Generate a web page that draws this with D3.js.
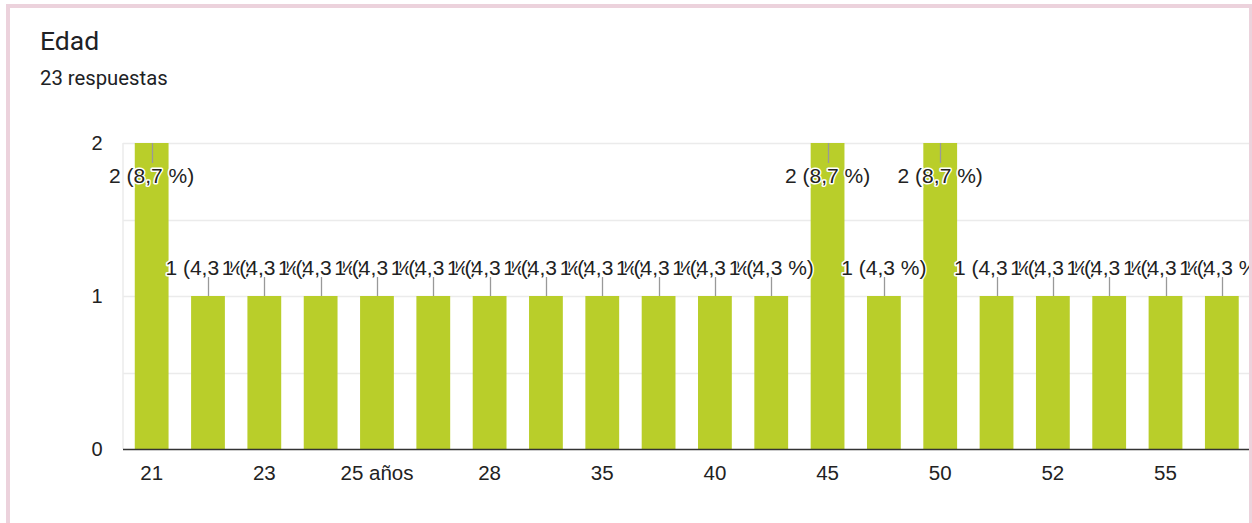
<!DOCTYPE html>
<html>
<head>
<meta charset="utf-8">
<script src="https://cdn.jsdelivr.net/npm/d3@7"></script>
<style>
  html, body { margin: 0; padding: 0; background: #fff; }
  svg { display: block; }
</style>
</head>
<body>
<div id="chart"></div>
<script>
// Age answers ("Edad") — count of responses per age option
const categories = ["21", "22", "23", "24", "25 años", "27", "28", "30", "35", "38",
                    "40", "42", "45", "48", "50", "51", "52", "54", "55", "58"];
const counts = [2, 1, 1, 1, 1, 1, 1, 1, 1, 1, 1, 1, 2, 1, 2, 1, 1, 1, 1, 1];
const yTicks = [0, 1, 2];
const gridValues = [0.5, 1, 1.5, 2];
const title = "Edad";
const total = d3.sum(counts);
const subtitle = `${total} respuestas`;

const W = 1252, H = 523;
const plot = { left: 123.5, right: 1250, top: 143, bottom: 449 };
const labelFont = "'Liberation Sans', Arial, sans-serif";

const svg = d3.select("#chart").append("svg")
  .attr("width", W).attr("height", H);

// Header
svg.append("text")
  .attr("x", 40).attr("y", 50)
  .attr("font-family", "Roboto, 'Noto Sans', sans-serif")
  .attr("font-size", 26.5)
  .attr("fill", "#202124")
  .text(title);
svg.append("text")
  .attr("x", 40).attr("y", 85)
  .attr("font-family", "Roboto, 'Noto Sans', sans-serif")
  .attr("font-size", 20.3)
  .attr("fill", "#202124")
  .text(subtitle);

const x = d3.scaleBand()
  .domain(categories)
  .range([plot.left, plot.right])
  .paddingInner(0.4)
  .paddingOuter(0.2);

const y = d3.scaleLinear()
  .domain([0, 2])
  .range([plot.bottom, plot.top]);

svg.append("defs").append("clipPath").attr("id", "plotClip")
  .append("rect").attr("x", 0).attr("y", 0).attr("width", 1250).attr("height", H);

const g = svg.append("g").attr("clip-path", "url(#plotClip)");

// Gridlines
g.append("g").selectAll("line").data(gridValues).join("line")
  .attr("x1", plot.left - 0.5).attr("x2", plot.right)
  .attr("y1", d => Math.round(y(d)) + 0.5).attr("y2", d => Math.round(y(d)) + 0.5)
  .attr("stroke", "#ebebeb").attr("stroke-width", 1.5);
g.append("line")
  .attr("x1", plot.left - 0.5).attr("x2", plot.left - 0.5)
  .attr("y1", plot.top).attr("y2", plot.bottom)
  .attr("stroke", "#ebebeb").attr("stroke-width", 1.5);

// Bars
g.append("g").selectAll("rect").data(counts).join("rect")
  .attr("x", (d, i) => x(categories[i]))
  .attr("width", x.bandwidth())
  .attr("y", d => y(d))
  .attr("height", d => y(0) - y(d))
  .attr("fill", "#b9ce2a");

// Baseline
g.append("line")
  .attr("x1", plot.left - 0.5).attr("x2", plot.right)
  .attr("y1", plot.bottom + 0.5).attr("y2", plot.bottom + 0.5)
  .attr("stroke", "#333").attr("stroke-width", 1.5);

// Y axis labels
const yAxis = d3.axisLeft(y).tickValues(yTicks).tickSize(0).tickPadding(0).tickFormat(d3.format("d"));
svg.append("g")
  .attr("transform", `translate(${plot.left - 21},0)`)
  .call(yAxis)
  .call(s => s.select(".domain").remove())
  .call(s => s.selectAll("text")
    .attr("font-family", labelFont)
    .attr("font-size", 20)
    .attr("fill", "#222"));

// X axis labels (every other category)
const xAxis = d3.axisBottom(x)
  .tickValues(categories.filter((c, i) => i % 2 === 0))
  .tickSize(0).tickPadding(0);
svg.append("g")
  .attr("transform", `translate(0,${plot.bottom + 31})`)
  .call(xAxis)
  .call(s => s.select(".domain").remove())
  .call(s => s.selectAll("text")
    .attr("dy", null)
    .attr("font-family", labelFont)
    .attr("font-size", 20.5)
    .attr("fill", "#222"));

// Value annotations with leader lines
const fmtPct = v => (v / total * 100).toFixed(1).replace(".", ",");
const ann = g.append("g");
counts.forEach((v, i) => {
  const cx = x(categories[i]) + x.bandwidth() / 2;
  const top = y(v);
  const inside = top - 60 < plot.top;
  const lineEnd = inside ? top + 20 : top - 19;
  const baseY = inside ? top + 40 : top - 21;
  ann.append("line")
    .attr("x1", Math.round(cx) + 0.5).attr("x2", Math.round(cx) + 0.5)
    .attr("y1", top).attr("y2", lineEnd)
    .attr("stroke", "#999").attr("stroke-width", 1.3);
  ann.append("text")
    .attr("x", cx).attr("y", baseY)
    .attr("text-anchor", "middle")
    .attr("font-family", labelFont)
    .attr("font-size", 21)
    .attr("fill", "#222")
    .attr("stroke", "#fff").attr("stroke-width", 3)
    .attr("stroke-linejoin", "round")
    .attr("paint-order", "stroke")
    .text(`${v} (${fmtPct(v)} %)`);
});

// Card frame
svg.append("path")
  .attr("d", `M8,${H} V6 H1251 V${H}`)
  .attr("fill", "none")
  .attr("stroke", "#ecd2dc")
  .attr("stroke-width", 4);
</script>
</body>
</html>
